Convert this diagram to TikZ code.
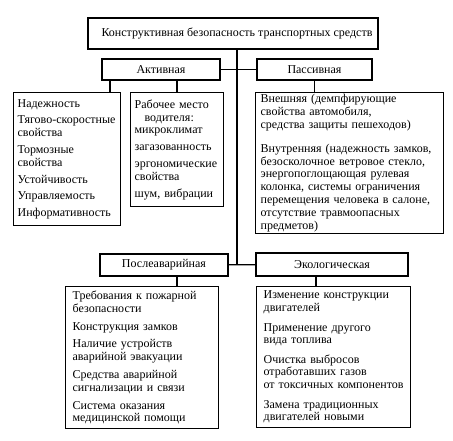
\documentclass[tikz,border=0pt]{standalone}
\usepackage{fontspec}
\setmainfont{Liberation Serif}
\usetikzlibrary{calc}

\tikzset{
  head/.style={draw, minimum height=21pt, inner sep=1pt},
  list/.style={draw, anchor=north west, align=left, inner xsep=4pt, inner ysep=1pt}
}
\newcommand{\gap}{\\[4pt]}

\begin{document}
\begin{tikzpicture}[x=1pt, y=-1pt, line width=1.3pt,
    font=\fontsize{12}{12.8}\selectfont]
    \useasboundingbox (0,0) rectangle (453,440);

    \node[head, minimum width=290pt, minimum height=31pt] (root) at (233,33.5)
    {\hspace*{8pt}Конструктивная безопасность транспортных средств};

    \node[head, minimum width=118pt] (active) at (161,69.5) {Активная};
    \node[head, minimum width=115pt] (passive) at (314.5,69.5) {Пассивная};
    \node[head, minimum width=128pt, minimum height=22pt] (afteracc) at (164,265)
    {Послеаварийная};
    \node[head, minimum width=152pt, minimum height=23pt] (eco) at (332,264.5)
    {Экологическая};

    \node[list, text width=99pt, minimum height=133pt] (dynamics) at (13,92)
    {Надежность\gap
      Тягово-скоростные\\ свойства\gap
      Тормозные\\ свойства\gap
      Устойчивость\gap
      Управляемость\gap
      Информативность};

    \node[list, text width=85pt, minimum height=114pt] (workplace) at (130,92)
    {Рабочее место\\ \hspace*{10pt}водителя:\\ микроклимат\gap
      загазованность\gap
      эргономические\\ свойства\gap
      шум, вибрации};

    \node[list, text width=178pt, minimum height=141pt, inner xsep=5pt] (protect) at (255,92)
    {Внешняя (демпфирующие\\ свойства автомобиля,\\ средства защиты пешеходов)\\[11pt]
      Внутренняя (надежность замков,\\ безосколочное ветровое стекло,\\
      энергопоглощающая рулевая\\ колонка, системы ограничения\\
      перемещения человека в салоне,\\ отсутствие травмоопасных\\ предметов)};

    \node[list, text width=139pt, minimum height=142pt, inner xsep=7pt] (rescue) at (65,286)
    {Требования к пожарной\\ безопасности\\[5pt]
      Конструкция замков\\[5pt]
      Наличие устройств\\ аварийной эвакуации\\[5pt]
      Средства аварийной\\ сигнализации и связи\\[5pt]
      Система оказания\\ медицинской помощи};

    \node[list, text width=140pt, minimum height=141pt, inner xsep=7pt] (engine) at (256,286)
    {Изменение конструкции\\ двигателей\\[6.5pt]
      Применение другого\\ вида топлива\\[6.5pt]
      Очистка выбросов\\ отработавших газов\\ от токсичных компонентов\\[6.5pt]
      Замена традиционных\\ двигателей новыми};

    \coordinate (hub) at (237,70);
    \coordinate (hublow) at (237,265);
    \draw (root.south -| hub) -- (hublow);
    \draw (active) -- (passive);
    \draw (afteracc) -- (eco);

    \foreach \from/\dx/\to in {active/-51/dynamics, active/16/workplace,
      passive/0/protect, afteracc/13/rescue, eco/-16/engine}{
      \draw ([xshift=\dx pt]\from.south) --
      ([xshift=\dx pt]\from.south |- \to.north);
    }
\end{tikzpicture}
\end{document}
